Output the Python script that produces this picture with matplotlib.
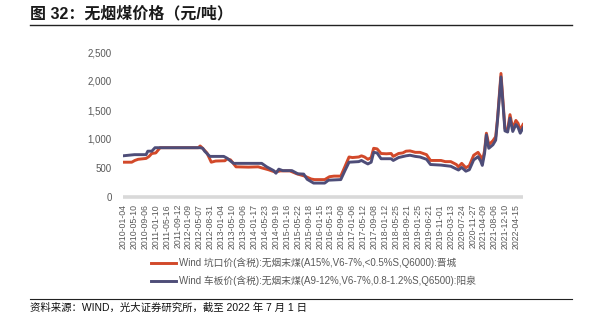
import datetime as dt
import numpy as np
import matplotlib
matplotlib.use("Agg")
import matplotlib.pyplot as plt
from matplotlib.lines import Line2D

plt.rcParams['font.family'] = ['Liberation Sans', 'Noto Sans CJK SC', 'DejaVu Sans']

title = "图 32：无烟煤价格（元/吨）"
source = "资料来源：WIND，光大证券研究所，截至 2022 年 7 月 1 日"

tick_labels = [
    "2010-01-04", "2010-05-10", "2010-09-06", "2011-01-10", "2011-05-16", "2011-09-12",
    "2012-01-09", "2012-05-07", "2012-08-31", "2013-01-04", "2013-05-10", "2013-09-06",
    "2014-01-17", "2014-05-23", "2014-09-19", "2015-01-16", "2015-05-22", "2015-09-18",
    "2016-01-15", "2016-05-13", "2016-09-09", "2017-01-06", "2017-05-12", "2017-09-08",
    "2018-01-12", "2018-05-25", "2018-09-21", "2019-01-25", "2019-06-21", "2019-11-01",
    "2020-03-13", "2020-07-24", "2020-11-27", "2021-04-09", "2021-08-06", "2021-12-10",
    "2022-04-15",
]

jincheng_label = "Wind 坑口价(含税):无烟末煤(A15%,V6-7%,<0.5%S,Q6000):晋城"
jincheng_dates = [
    "2010-01-04", "2010-04-15", "2010-05-20", "2010-06-25", "2010-09-20", "2010-10-25",
    "2010-11-25", "2011-01-10", "2011-03-01", "2012-04-25", "2012-05-14", "2012-06-10",
    "2012-07-25", "2012-09-10", "2012-10-30", "2013-02-15", "2013-03-10", "2013-04-20",
    "2013-06-20", "2013-11-10", "2014-03-05", "2014-04-20", "2014-06-30", "2014-09-10",
    "2014-11-05", "2015-02-20", "2015-05-10", "2015-08-05", "2015-10-15", "2015-11-20",
    "2016-03-10", "2016-05-01", "2016-06-20", "2016-09-01", "2016-10-15", "2016-11-30",
    "2017-01-06", "2017-03-20", "2017-04-20", "2017-05-25", "2017-06-30", "2017-08-05",
    "2017-09-01", "2017-10-10", "2017-11-25", "2018-01-25", "2018-03-25", "2018-04-20",
    "2018-06-20", "2018-08-05", "2018-09-10", "2018-10-25", "2018-12-25", "2019-02-20",
    "2019-05-20", "2019-07-10", "2019-11-15", "2020-01-05", "2020-03-13", "2020-05-20",
    "2020-06-15", "2020-07-24", "2020-09-10", "2020-10-20", "2020-12-10", "2021-02-01",
    "2021-03-05", "2021-03-25", "2021-04-20", "2021-05-10", "2021-06-05", "2021-07-20",
    "2021-08-20", "2021-09-10", "2021-10-20", "2021-12-05", "2022-01-05", "2022-02-01",
    "2022-03-05", "2022-04-10", "2022-05-05", "2022-05-30", "2022-07-01",
]
jincheng_values = [
    600, 600, 630, 650, 665, 700,
    750, 760, 850, 850, 880, 840,
    760, 600, 620, 625, 660, 640,
    520, 515, 520, 500, 470, 430,
    450, 450, 400, 360, 310, 300,
    300, 350, 360, 360, 520, 690,
    680, 690, 710, 690, 650, 680,
    840, 830, 750, 745, 750, 700,
    750, 760, 790, 795, 770, 770,
    730, 630, 630, 610, 610, 560,
    520, 580, 505, 540, 720, 770,
    700, 610, 800, 1100, 900, 970,
    1040, 1350, 2130, 1180, 1160, 1420,
    1180, 1320, 1270, 1150, 1250,
]

yangquan_label = "Wind 车板价(含税):无烟末煤(A9-12%,V6-7%,0.8-1.2%S,Q6500):阳泉"
yangquan_dates = [
    "2010-01-04", "2010-05-15", "2010-09-20", "2010-10-10", "2010-11-25", "2011-01-01",
    "2012-05-14", "2012-06-10", "2012-07-01", "2012-08-25", "2013-02-01", "2013-03-10",
    "2013-04-20", "2013-05-25", "2014-04-15", "2014-06-10", "2014-08-25", "2014-09-19",
    "2014-10-20", "2014-12-01", "2015-03-15", "2015-05-22", "2015-07-25", "2015-09-01",
    "2015-11-10", "2016-03-10", "2016-04-20", "2016-09-01", "2016-10-15", "2016-11-30",
    "2017-03-20", "2017-04-20", "2017-05-25", "2017-06-30", "2017-08-05", "2017-09-01",
    "2017-10-10", "2017-11-25", "2018-03-25", "2018-04-20", "2018-06-20", "2018-09-10",
    "2018-10-25", "2018-12-25", "2019-02-20", "2019-05-20", "2019-07-10", "2019-11-15",
    "2020-03-13", "2020-06-15", "2020-07-24", "2020-09-10", "2020-10-20", "2020-12-10",
    "2021-02-01", "2021-03-05", "2021-03-25", "2021-04-20", "2021-05-10", "2021-06-05",
    "2021-07-20", "2021-08-20", "2021-09-10", "2021-10-20", "2021-12-05", "2022-01-05",
    "2022-02-01", "2022-03-05", "2022-04-10", "2022-05-05", "2022-05-30", "2022-07-01",
]
yangquan_values = [
    710, 730, 730, 790, 790, 850,
    850, 840, 790, 700, 700, 670,
    620, 580, 580, 520, 455, 410,
    480, 455, 455, 400, 395, 305,
    240, 240, 290, 300, 450, 600,
    610, 630, 600, 570, 600, 770,
    760, 660, 660, 630, 680, 710,
    720, 700, 690, 650, 560, 550,
    530, 465, 510, 445, 470, 640,
    695, 620, 545, 750, 1070, 840,
    900, 980, 1320, 2070, 1140, 1120,
    1360, 1130, 1250, 1200, 1100, 1190,
]

y_ticks = [0, 500, 1000, 1500, 2000, 2500]

RED = "#D2492A"
NAVY = "#4E4D78"
GREY_TXT = "#595959"
LW = 2.1


def ordinal(s):
    return dt.date.fromisoformat(s).toordinal()


# Category-style x axis: tick labels sit at equal spacing; dates in between
# are placed proportionally inside their tick interval.
tick_ord = np.array([ordinal(s) for s in tick_labels], dtype=float)
tick_pos = np.arange(len(tick_ord), dtype=float)
step = tick_ord[-1] - tick_ord[-2]
anchor_ord = np.append(tick_ord, tick_ord[-1] + step)
anchor_pos = np.append(tick_pos, tick_pos[-1] + 1)


def to_pos(dates):
    return np.interp([ordinal(d) for d in dates], anchor_ord, anchor_pos)


fig = plt.figure(figsize=(6.02, 3.28), dpi=100)
ax = fig.add_axes([123 / 602, 1 - 197 / 328, 400 / 602, 145 / 328])

x_j = to_pos(jincheng_dates)
x_y = to_pos(yangquan_dates)
ax.plot(x_j, jincheng_values, color=RED, lw=LW, solid_joinstyle="round", zorder=3)
ax.plot(x_y, yangquan_values, color=NAVY, lw=LW, solid_joinstyle="round", zorder=4)

ax.set_xlim(0, max(x_j[-1], x_y[-1]))
ax.set_ylim(0, 2500)
ax.set_yticks(y_ticks)
ax.set_yticklabels([f"{v:,}" for v in y_ticks])
ax.set_xticks(tick_pos)
ax.set_xticklabels(tick_labels, rotation=90)
ax.tick_params(axis="y", length=0, pad=8, labelsize=7, labelcolor=GREY_TXT)
ax.tick_params(axis="x", length=0, pad=5, labelsize=6.3, labelcolor=GREY_TXT)

for side in ("top", "right", "left"):
    ax.spines[side].set_visible(False)
ax.spines["bottom"].set_color("#D9D9D9")
ax.spines["bottom"].set_linewidth(2.6)
ax.spines["bottom"].set_capstyle("butt")

handles = [Line2D([], [], color=RED, lw=LW), Line2D([], [], color=NAVY, lw=LW)]
fig.legend(handles, [jincheng_label, yangquan_label],
           loc="upper left", bbox_to_anchor=(151 / 602, 1 - 258 / 328),
           frameon=False, fontsize=7, labelcolor=GREY_TXT,
           handlelength=2.6, handletextpad=0.25, labelspacing=0.75,
           borderaxespad=0, borderpad=0)

fig.text(30 / 602, 1 - 14 / 328, title, fontsize=11.5, fontweight="bold",
         va="center", ha="left", color="#1a1a1a")
fig.add_artist(Line2D([30 / 602, 572 / 602], [1 - 25 / 328] * 2, color="#222222", lw=1.0))
fig.add_artist(Line2D([30 / 602, 572 / 602], [1 - 299 / 328] * 2, color="#222222", lw=0.8))
fig.text(30 / 602, 1 - 308 / 328, source, fontsize=7.5, va="center", ha="left", color="#111111")

fig.savefig("out.png", dpi=100)
